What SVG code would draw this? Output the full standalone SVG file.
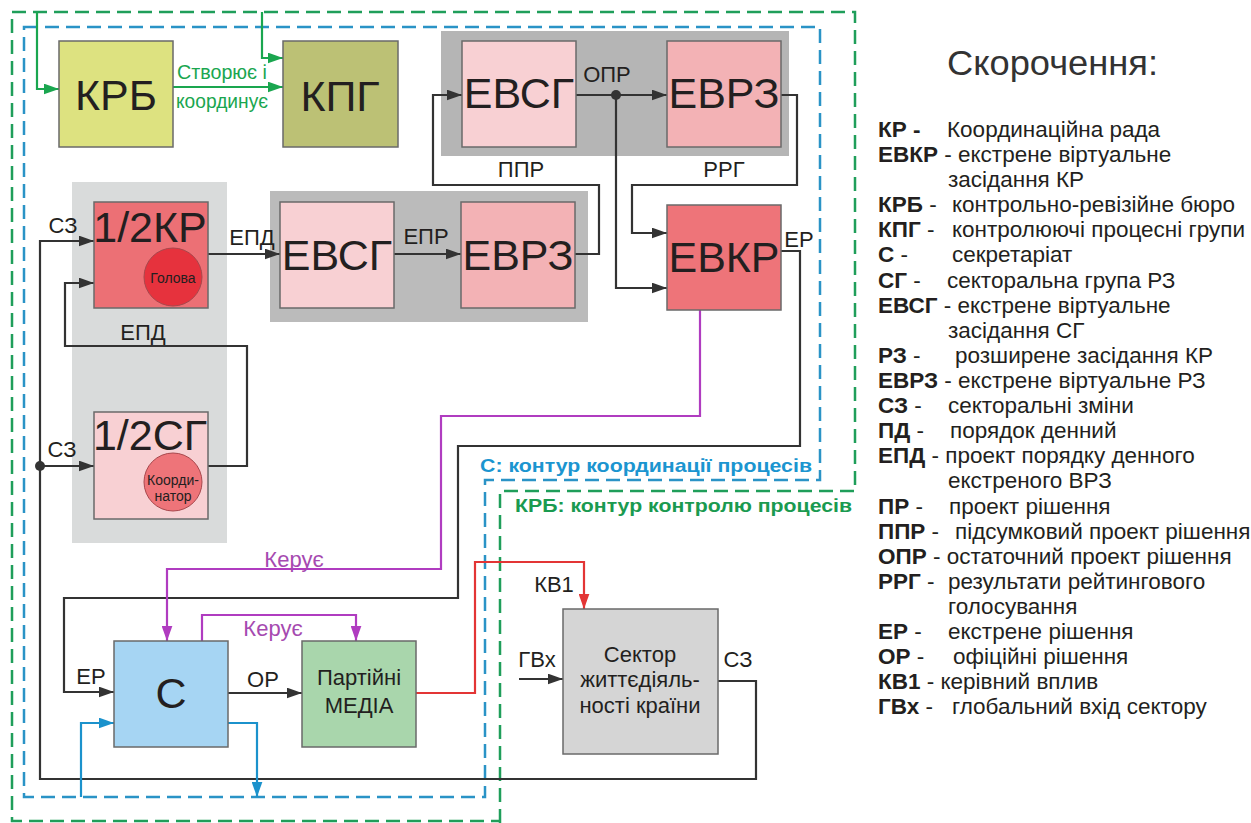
<svg xmlns="http://www.w3.org/2000/svg" width="1251" height="823" viewBox="0 0 1251 823">
<style>
text{font-family:"Liberation Sans",Arial,sans-serif;fill:#231f20}
.big{font-size:43px;text-anchor:middle}
.mid{font-size:22px;text-anchor:middle}
.lbl{font-size:22px;text-anchor:middle}
.sm{font-size:14px;text-anchor:middle}
.box{stroke:#6a6a6a;stroke-width:1.5}
.c{fill:none;stroke:#333;stroke-width:2.2}
.cg{fill:none;stroke:#1aa64f;stroke-width:2.2}
.cp{fill:none;stroke:#b03cc0;stroke-width:2.2}
.cr{fill:none;stroke:#e33535;stroke-width:2.2}
.cb{fill:none;stroke:#1b92cc;stroke-width:2.2}
.leg{font-size:22.5px}
.legb{font-size:22.5px;font-weight:bold}
</style>
<defs>
<marker id="ak" viewBox="0 0 14 10" refX="14" refY="5" markerWidth="15" markerHeight="11" orient="auto" markerUnits="userSpaceOnUse"><path d="M0,0 L14,5 L0,10 z" fill="#333"/></marker>
<marker id="ag" viewBox="0 0 14 10" refX="14" refY="5" markerWidth="15" markerHeight="11" orient="auto" markerUnits="userSpaceOnUse"><path d="M0,0 L14,5 L0,10 z" fill="#1aa64f"/></marker>
<marker id="ap" viewBox="0 0 14 10" refX="14" refY="5" markerWidth="15" markerHeight="11" orient="auto" markerUnits="userSpaceOnUse"><path d="M0,0 L14,5 L0,10 z" fill="#b03cc0"/></marker>
<marker id="ar" viewBox="0 0 14 10" refX="14" refY="5" markerWidth="15" markerHeight="11" orient="auto" markerUnits="userSpaceOnUse"><path d="M0,0 L14,5 L0,10 z" fill="#e33535"/></marker>
<marker id="ab" viewBox="0 0 14 10" refX="14" refY="5" markerWidth="15" markerHeight="11" orient="auto" markerUnits="userSpaceOnUse"><path d="M0,0 L14,5 L0,10 z" fill="#1b92cc"/></marker>
</defs>
<rect width="1251" height="823" fill="#ffffff"/>

<g id="frames">
<path d="M500,823 V491 H855 V12 H12 V821 H500" fill="none" stroke="#1f9e5a" stroke-width="2.5" stroke-dasharray="14,7"/>
<path d="M24,27 H820 V480 H485 V797 H24 Z" fill="none" stroke="#2a93c6" stroke-width="2.5" stroke-dasharray="14,7"/>
<text x="480" y="472" font-size="19" font-weight="bold" style="fill:#1b95d0" textLength="332" lengthAdjust="spacingAndGlyphs">С: контур координації процесів</text>
<text x="515" y="512" font-size="19" font-weight="bold" style="fill:#1a9a50" textLength="337" lengthAdjust="spacingAndGlyphs">КРБ: контур контролю процесів</text>
</g>

<g id="panels">
<rect x="72" y="182" width="155" height="361" fill="#d9dbdb"/>
<rect x="441" y="31" width="348" height="125" fill="#b5b5b5"/>
<rect x="270" y="191" width="318" height="131" fill="#bbbbbb"/>
</g>

<g id="connectors">
<path class="cg" d="M37,12 V89 H59" marker-end="url(#ag)"/>
<path class="cg" d="M262,12 V58 H283" marker-end="url(#ag)"/>
<path class="cg" d="M173,87 H283" marker-end="url(#ag)"/>
<path class="c" d="M575,254 H599 V185 H433 V95 H462" marker-end="url(#ak)"/>
<path class="c" d="M576,95 H667" marker-end="url(#ak)"/>
<path class="c" d="M781,95 H797 V185 H632 V233 H667" marker-end="url(#ak)"/>
<path class="c" d="M616,95 V288 H667" marker-end="url(#ak)"/>
<circle cx="616" cy="95" r="5" fill="#333"/>
<path class="c" d="M781,251 H800 V446 H458 V598 H64 V692 H114" marker-end="url(#ak)"/>
<path class="c" d="M208,254 H280" marker-end="url(#ak)"/>
<path class="c" d="M394,254 H461" marker-end="url(#ak)"/>
<path class="c" d="M208,466 H247 V346 H65 V283 H94" marker-end="url(#ak)"/>
<path class="c" d="M718,681 H756 V779 H40 V241 H94" marker-end="url(#ak)"/>
<path class="c" d="M40,466 H94" marker-end="url(#ak)"/>
<circle cx="40" cy="466" r="5" fill="#333"/>
<path class="c" d="M228,693 H302" marker-end="url(#ak)"/>
<path class="c" d="M519,679 H563" marker-end="url(#ak)"/>
<path class="cp" d="M700,310 V416 H441 V569 H167 V641" marker-end="url(#ap)"/>
<path class="cp" d="M202,641 V615 H356 V641" marker-end="url(#ap)"/>
<path class="cr" d="M416,693 H475 V562 H584 V609" marker-end="url(#ar)"/>
<path class="cb" d="M228,723 H257 V797" marker-end="url(#ab)"/>
<path class="cb" d="M81,797 V723 H114" marker-end="url(#ab)"/>
<text x="222" y="79" font-size="20" text-anchor="middle" style="fill:#1aa64f" textLength="90" lengthAdjust="spacingAndGlyphs">Створює і</text>
<text x="222" y="108" font-size="20" text-anchor="middle" style="fill:#1aa64f" textLength="92" lengthAdjust="spacingAndGlyphs">координує</text>
<text class="lbl" x="607" y="82" font-size="20">ОПР</text>
<text class="lbl" x="521" y="177">ППР</text>
<text class="lbl" x="724" y="177">РРГ</text>
<text class="lbl" x="63" y="233">СЗ</text>
<text class="lbl" x="62" y="457">СЗ</text>
<text class="lbl" x="252" y="245">ЕПД</text>
<text class="lbl" x="143" y="340">ЕПД</text>
<text class="lbl" x="426" y="244">ЕПР</text>
<text class="lbl" x="799" y="247">ЕР</text>
<text class="lbl" x="91" y="684">ЕР</text>
<text class="lbl" x="263" y="687">ОР</text>
<text class="lbl" x="294" y="567" style="fill:#a64ab0">Керує</text>
<text class="lbl" x="273" y="636" style="fill:#a64ab0">Керує</text>
<text class="lbl" x="554" y="592">КВ1</text>
<text class="lbl" x="537" y="667">ГВх</text>
<text class="lbl" x="738" y="667">СЗ</text>
</g>

<g id="krb"><rect class="box" x="59" y="41" width="114" height="106" fill="#dde280"/><text class="big" x="116" y="110">КРБ</text></g>
<g id="kpg"><rect class="box" x="283" y="41" width="115" height="106" fill="#bcc175"/><text class="big" x="340" y="111">КПГ</text></g>
<g id="evsg1"><rect class="box" x="462" y="41" width="114" height="106" fill="#f8d0d3"/><text class="big" x="519" y="108">ЕВСГ</text></g>
<g id="evrz1"><rect class="box" x="667" y="41" width="114" height="106" fill="#f3b2b5"/><text class="big" x="724" y="108">ЕВРЗ</text></g>
<g id="evsg2"><rect class="box" x="280" y="202" width="114" height="106" fill="#f8d0d3"/><text class="big" x="337" y="270">ЕВСГ</text></g>
<g id="evrz2"><rect class="box" x="461" y="202" width="114" height="106" fill="#f3b2b5"/><text class="big" x="518" y="270">ЕВРЗ</text></g>
<g id="evkr"><rect class="box" x="667" y="205" width="114" height="105" fill="#ee7479"/><text class="big" x="724" y="272" font-size="41">ЕВКР</text></g>
<g id="kr"><rect class="box" x="94" y="202" width="114" height="106" fill="#ec7075"/><text class="big" x="150" y="242" font-size="39">1/2КР</text>
<circle cx="173" cy="277" r="29" fill="#e6323d" stroke="#a8474c" stroke-width="1"/><text class="sm" x="173" y="283">Голова</text></g>
<g id="sg"><rect class="box" x="94" y="412" width="114" height="107" fill="#f8d0d3"/><text class="big" x="150" y="450" font-size="39">1/2СГ</text>
<circle cx="173" cy="482" r="29" fill="#ee7479" stroke="#a8474c" stroke-width="1"/><text class="sm" x="173" y="485">Коорди-</text><text class="sm" x="173" y="501">натор</text></g>
<g id="s"><rect class="box" x="114" y="641" width="114" height="106" fill="#a6d5f3"/><text class="big" x="171" y="708">С</text></g>
<g id="media"><rect class="box" x="302" y="641" width="114" height="106" fill="#a9d6ac"/><text class="mid" x="359" y="685" font-size="23">Партійні</text><text class="mid" x="359" y="713" font-size="23">МЕДІА</text></g>
<g id="sector"><rect class="box" x="563" y="609" width="155" height="145" fill="#d5d5d5"/><text class="mid" x="640" y="662">Сектор</text><text class="mid" x="640" y="687">життєдіяль-</text><text class="mid" x="640" y="713">ності країни</text></g>

<g id="legend">
<text x="947" y="75" font-size="35" style="fill:#333" textLength="211" lengthAdjust="spacingAndGlyphs">Скорочення:</text>
<text class="legb" x="878" y="137">КР -</text><text class="leg" x="947" y="137">Координаційна рада</text>
<text class="leg" x="878" y="162"><tspan font-weight="bold">ЕВКР</tspan> - екстрене віртуальне</text>
<text class="leg" x="948" y="187">засідання КР</text>
<text class="leg" x="878" y="212"><tspan font-weight="bold">КРБ</tspan> -</text><text class="leg" x="952" y="212">контрольно-ревізійне бюро</text>
<text class="leg" x="878" y="237"><tspan font-weight="bold">КПГ</tspan> -</text><text class="leg" x="952" y="237">контролюючі процесні групи</text>
<text class="leg" x="878" y="262"><tspan font-weight="bold">С</tspan> -</text><text class="leg" x="952" y="262">секретаріат</text>
<text class="leg" x="878" y="288"><tspan font-weight="bold">СГ</tspan> -</text><text class="leg" x="947" y="288">секторальна група РЗ</text>
<text class="leg" x="878" y="313"><tspan font-weight="bold">ЕВСГ</tspan> - екстрене віртуальне</text>
<text class="leg" x="948" y="338">засідання СГ</text>
<text class="leg" x="878" y="363"><tspan font-weight="bold">РЗ</tspan> -</text><text class="leg" x="955" y="363">розширене засідання КР</text>
<text class="leg" x="878" y="388"><tspan font-weight="bold">ЕВРЗ</tspan> - екстрене віртуальне РЗ</text>
<text class="leg" x="878" y="413"><tspan font-weight="bold">СЗ</tspan> -</text><text class="leg" x="948" y="413">секторальні зміни</text>
<text class="leg" x="878" y="438"><tspan font-weight="bold">ПД</tspan> -</text><text class="leg" x="950" y="438">порядок денний</text>
<text class="leg" x="878" y="463"><tspan font-weight="bold">ЕПД</tspan> - проект порядку денного</text>
<text class="leg" x="948" y="488">екстреного ВРЗ</text>
<text class="leg" x="878" y="514"><tspan font-weight="bold">ПР</tspan> -</text><text class="leg" x="949" y="514">проект рішення</text>
<text class="leg" x="878" y="539"><tspan font-weight="bold">ППР</tspan> -</text><text class="leg" x="955" y="539">підсумковий проект рішення</text>
<text class="leg" x="878" y="564"><tspan font-weight="bold">ОПР</tspan> - остаточний проект рішення</text>
<text class="leg" x="878" y="589"><tspan font-weight="bold">РРГ</tspan> -</text><text class="leg" x="948" y="589">результати рейтингового</text>
<text class="leg" x="948" y="614">голосування</text>
<text class="leg" x="878" y="639"><tspan font-weight="bold">ЕР</tspan> -</text><text class="leg" x="948" y="639">екстрене рішення</text>
<text class="leg" x="878" y="664"><tspan font-weight="bold">ОР</tspan> -</text><text class="leg" x="953" y="664">офіційні рішення</text>
<text class="leg" x="878" y="689"><tspan font-weight="bold">КВ1</tspan> - керівний вплив</text>
<text class="leg" x="878" y="714"><tspan font-weight="bold">ГВх</tspan> -</text><text class="leg" x="952" y="714">глобальний вхід сектору</text>
</g>
</svg>
